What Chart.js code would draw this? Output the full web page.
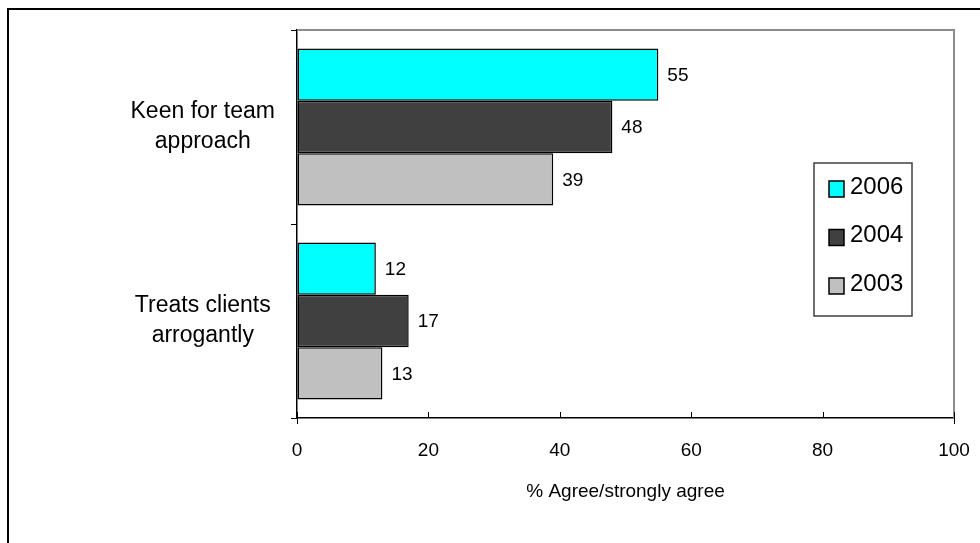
<!DOCTYPE html>
<html>
<head>
<meta charset="utf-8">
<script src="https://cdn.jsdelivr.net/npm/chart.js@4.4.1/dist/chart.umd.min.js"></script>
<style>
  html, body { margin: 0; padding: 0; background: #fff; }
  canvas { display: block; }
</style>
</head>
<body>
<canvas id="chart" width="980" height="543"></canvas>
<script>
// === data ===
const categories = [["Keen for team", "approach"], ["Treats clients", "arrogantly"]];
const seriesNames = ["2006", "2004", "2003"];
const values2006 = [55, 12];
const values2004 = [48, 17];
const values2003 = [39, 13];
const seriesColors = ["#00FFFF", "#404040", "#C0C0C0"];
const xTicks = [0, 20, 40, 60, 80, 100];
const xTitle = "% Agree/strongly agree";

const BASE_FONT = "'Liberation Sans', Arial, sans-serif";

// === helper plugins ===
// outer frame (only top/left edges visible in the crop)
const framePlugin = {
    id: "frame",
    beforeDraw(chart) {
        const c = chart.ctx;
        c.save();
        c.strokeStyle = "#000";
        c.lineWidth = 2;
        c.beginPath();
        c.moveTo(8, chart.height);
        c.lineTo(8, 9);
        c.lineTo(chart.width, 9);
        c.stroke();
        c.restore();
    }
};

// grey top/right border of the plot area + inward x ticks
const plotBoxPlugin = {
    id: "plotBox",
    beforeDatasetsDraw(chart) {
        const { left, right, top, bottom } = chart.chartArea;
        const c = chart.ctx;
        c.save();
        c.strokeStyle = "#8c8c8c";
        c.lineWidth = 2;
        c.beginPath();
        c.moveTo(left, top);
        c.lineTo(right, top);
        c.lineTo(right, bottom);
        c.stroke();

        const xs = chart.scales.x;
        c.strokeStyle = "#000";
        c.lineWidth = 1;
        xs.ticks.forEach(t => {
            const px = Math.round(xs.getPixelForValue(t.value)) + 0.5;
            c.beginPath();
            c.moveTo(px, bottom - 6);
            c.lineTo(px, bottom + (t.value === 0 || t.value === 100 ? 6 : 0));
            c.stroke();
        });
        c.restore();
    }
};

// value labels to the right of each bar
const valueLabelPlugin = {
    id: "valueLabels",
    afterDatasetsDraw(chart) {
        const c = chart.ctx;
        c.save();
        c.font = "19px " + BASE_FONT;
        c.fillStyle = "#000";
        c.textBaseline = "middle";
        c.textAlign = "left";
        chart.data.datasets.forEach((ds, i) => {
            chart.getDatasetMeta(i).data.forEach((bar, j) => {
                c.fillText(String(ds.data[j]), bar.x + 9, bar.y + 1);
            });
        });
        c.restore();
    }
};

// boxed legend inside the plot area
const boxLegendPlugin = {
    id: "boxLegend",
    afterDraw(chart) {
        const c = chart.ctx;
        const bx = 814, by = 163, bw = 98, bh = 153;
        c.save();
        c.strokeStyle = "#404040";
        c.lineWidth = 1.5;
        c.strokeRect(bx, by, bw, bh);
        c.font = "24px " + BASE_FONT;
        c.textBaseline = "middle";
        c.textAlign = "left";
        chart.data.datasets.forEach((ds, i) => {
            const cy = 189 + i * 48.5;
            c.fillStyle = ds.backgroundColor;
            c.fillRect(829, cy - 8, 15, 16);
            c.strokeStyle = "#000";
            c.lineWidth = 1.5;
            c.strokeRect(829, cy - 8, 15, 16);
            c.fillStyle = "#000";
            c.fillText(ds.label, 850, cy - 2);
        });
        c.restore();
    }
};

// === chart ===
const seriesValues = [values2006, values2004, values2003];

new Chart(document.getElementById("chart").getContext("2d"), {
    type: "bar",
    data: {
        labels: categories,
        datasets: seriesNames.map((name, i) => ({
            label: name,
            data: seriesValues[i],
            backgroundColor: seriesColors[i],
            borderColor: "#000",
            borderWidth: 1.5,
            borderSkipped: false,
            categoryPercentage: 0.81,
            barPercentage: 1.0
        }))
    },
    options: {
        indexAxis: "y",
        responsive: false,
        animation: false,
        layout: { padding: { left: 0, top: 30, right: 26, bottom: 0 } },
        plugins: {
            legend: { display: false },
            tooltip: { enabled: false }
        },
        scales: {
            x: {
                min: 0,
                max: 100,
                afterBuildTicks: scale => {
                    scale.ticks = xTicks.map(v => ({ value: v }));
                },
                afterFit: scale => {
                    scale.height = 125;
                    scale.paddingLeft = 0;
                    scale.paddingRight = 0;
                },
                grid: { display: true, drawOnChartArea: false, drawTicks: false },
                border: { color: "#000", width: 1.5 },
                ticks: {
                    color: "#000",
                    padding: 21,
                    font: { family: BASE_FONT, size: 19 }
                },
                title: {
                    display: true,
                    text: xTitle,
                    color: "#000",
                    font: { family: BASE_FONT, size: 19 },
                    padding: { top: 0, bottom: 40 }
                }
            },
            y: {
                afterFit: scale => {
                    scale.width = 297;
                    scale.paddingTop = 0;
                    scale.paddingBottom = 0;
                },
                grid: {
                    offset: true,
                    drawOnChartArea: false,
                    drawTicks: true,
                    tickLength: 6,
                    color: "#000"
                },
                border: { color: "#000", width: 1.5 },
                ticks: {
                    color: "#000",
                    padding: 16,
                    crossAlign: "center",
                    font: { family: BASE_FONT, size: 23, lineHeight: 1.3 }
                }
            }
        }
    },
    plugins: [framePlugin, plotBoxPlugin, valueLabelPlugin, boxLegendPlugin]
});
</script>
</body>
</html>
